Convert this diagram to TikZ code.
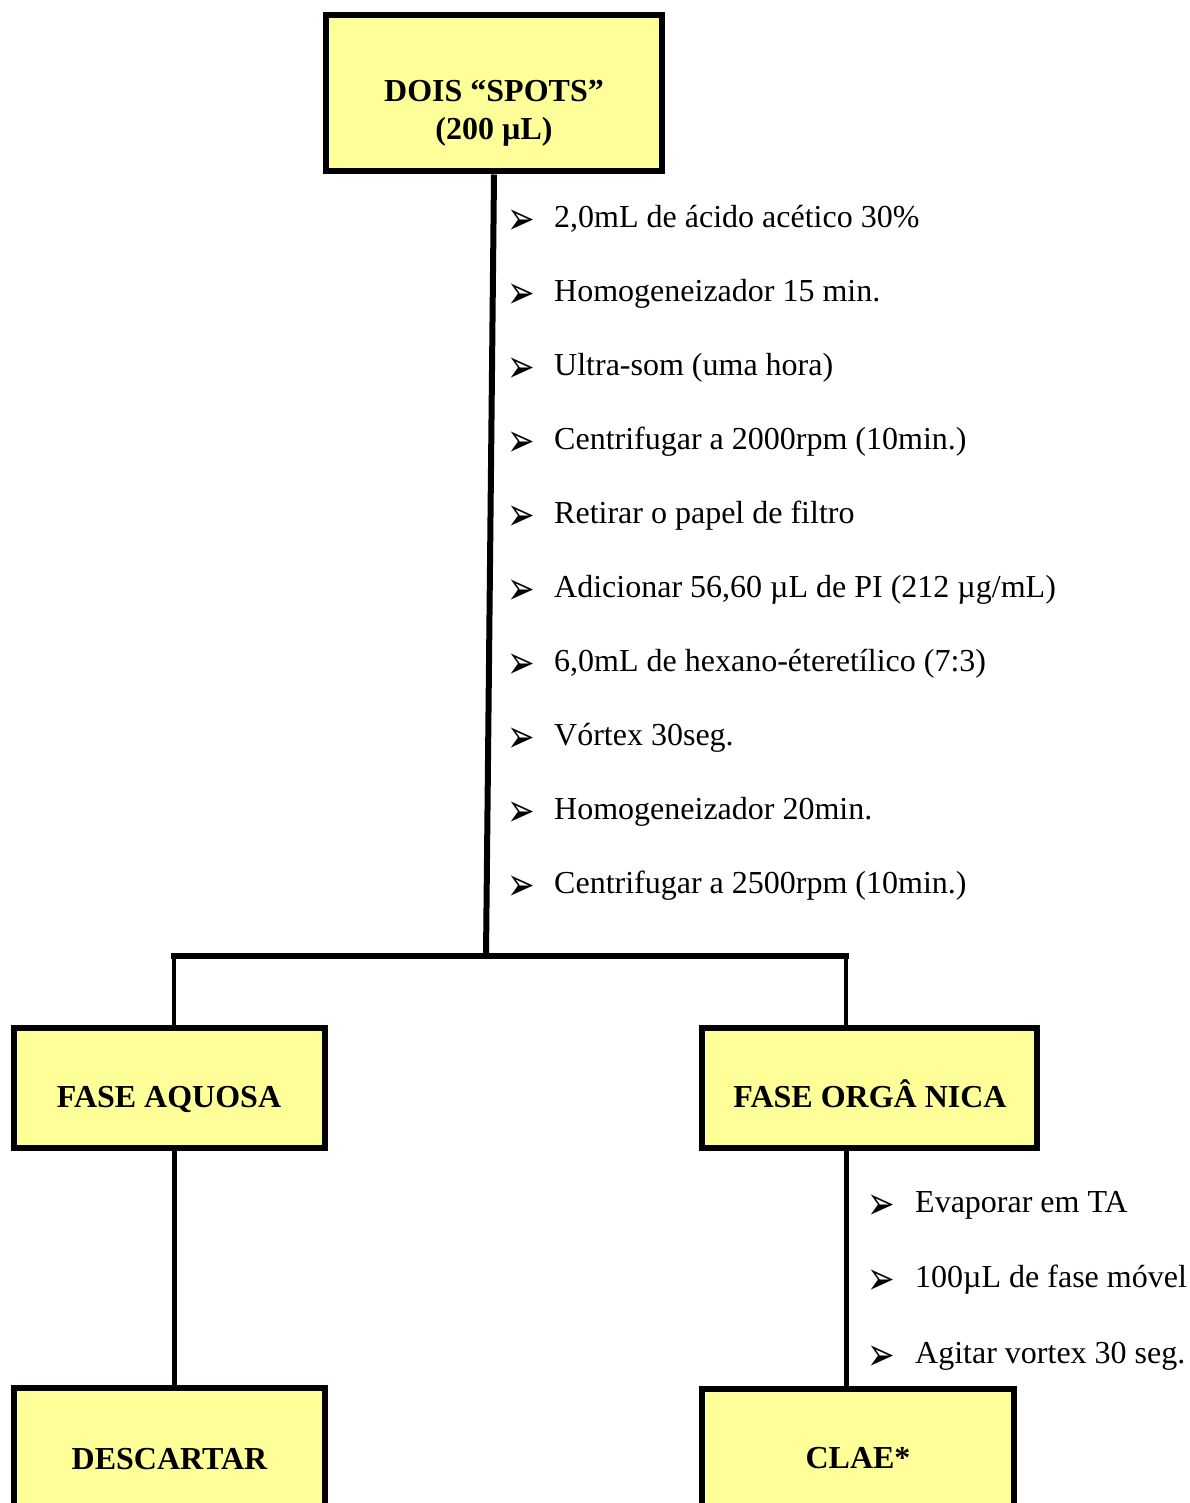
\documentclass[tikz,border=0pt]{standalone}
\usepackage{fontspec}
\setmainfont{Liberation Serif}
\newfontfamily\bulletfont{DejaVu Sans}
\definecolor{boxyellow}{HTML}{FFFF99}
\begin{document}
\begin{tikzpicture}[x=1pt,y=-1pt,
  box/.style={draw=black, fill=boxyellow, line width=6pt, rectangle, inner sep=0pt},
  boxtext/.style={font=\fontsize{32}{38}\selectfont\bfseries, inner sep=0pt, anchor=base},
  itemtext/.style={font=\fontsize{32}{38}\selectfont, inner sep=0pt, anchor=base west},
  bul/.style={font=\bulletfont\fontsize{33}{33}\selectfont, inner sep=0pt, anchor=base west},
  mainline/.style={line width=6pt},
  branchline/.style={line width=4.5pt},
  lowline/.style={line width=5pt}]
\useasboundingbox (0,0) rectangle (1189,1503);
\clip (0,0) rectangle (1189,1503);

% boxes
\node[box, minimum width=336pt, minimum height=156pt] (top) at (494,93.5) {};
\node[box, minimum width=311pt, minimum height=120pt] (aq) at (169.5,1088) {};
\node[box, minimum width=335pt, minimum height=120pt] (org) at (869.5,1088) {};
\node[box, minimum width=311pt, minimum height=142pt] (desc) at (169.5,1459) {};
\node[box, minimum width=312pt, minimum height=142pt] (clae) at (858,1460) {};

% box texts
\node[font=\fontsize{32}{38}\selectfont\bfseries, align=center, inner sep=0pt] (toptext) at (494,113) {DOIS “SPOTS”\\(200 µL)};
\node[boxtext] (aqtext) at (169,1107) {FASE AQUOSA};
\node[boxtext] (orgtext) at (870,1107) {FASE ORGÂ NICA};
\node[boxtext] (desctext) at (169.5,1469) {DESCARTAR};
\node[boxtext] (claetext) at (858,1468) {CLAE*};

% junctions
\coordinate (j1) at (486,956);
\coordinate (jl) at (174,956);
\coordinate (jr) at (846,956);

% connectors
\draw[mainline] (top.south) -- (j1);
\draw[mainline, line cap=rect] (jl) -- (jr);
\draw[branchline] (jl) -- (aq.north -| jl);
\draw[branchline] (jr) -- (org.north -| jr);
\draw[lowline] (aq.south -| jl) -- (desc.north -| jl);
\draw[lowline] (org.south -| jr) -- (clae.north -| jr);

% step lists
\foreach \i/\y/\t in {1/228/{2,0mL de ácido acético 30\%},
                      2/301.9/{Homogeneizador 15 min.},
                      3/375.8/{Ultra-som (uma hora)},
                      4/449.7/{Centrifugar a 2000rpm (10min.)},
                      5/523.6/{Retirar o papel de filtro},
                      6/597.5/{Adicionar 56,60 µL de PI (212 µg/mL)},
                      7/671.4/{6,0mL de hexano-éteretílico (7:3)},
                      8/745.3/{Vórtex 30seg.},
                      9/819.2/{Homogeneizador 20min.},
                      10/893/{Centrifugar a 2500rpm (10min.)}}{
  \node[bul] (sb\i) at (507,\y+7) {\scalebox{1}[1.4]{➢}};
  \node[itemtext] (s\i) at (554,\y) {\t};
}
\foreach \i/\y/\t in {1/1212/{Evaporar em TA},
                      2/1287.5/{100µL de fase móvel},
                      3/1363/{Agitar vortex 30 seg.}}{
  \node[bul] (rb\i) at (867,\y+7) {\scalebox{1}[1.4]{➢}};
  \node[itemtext] (r\i) at (915,\y) {\t};
}
\end{tikzpicture}
\end{document}
